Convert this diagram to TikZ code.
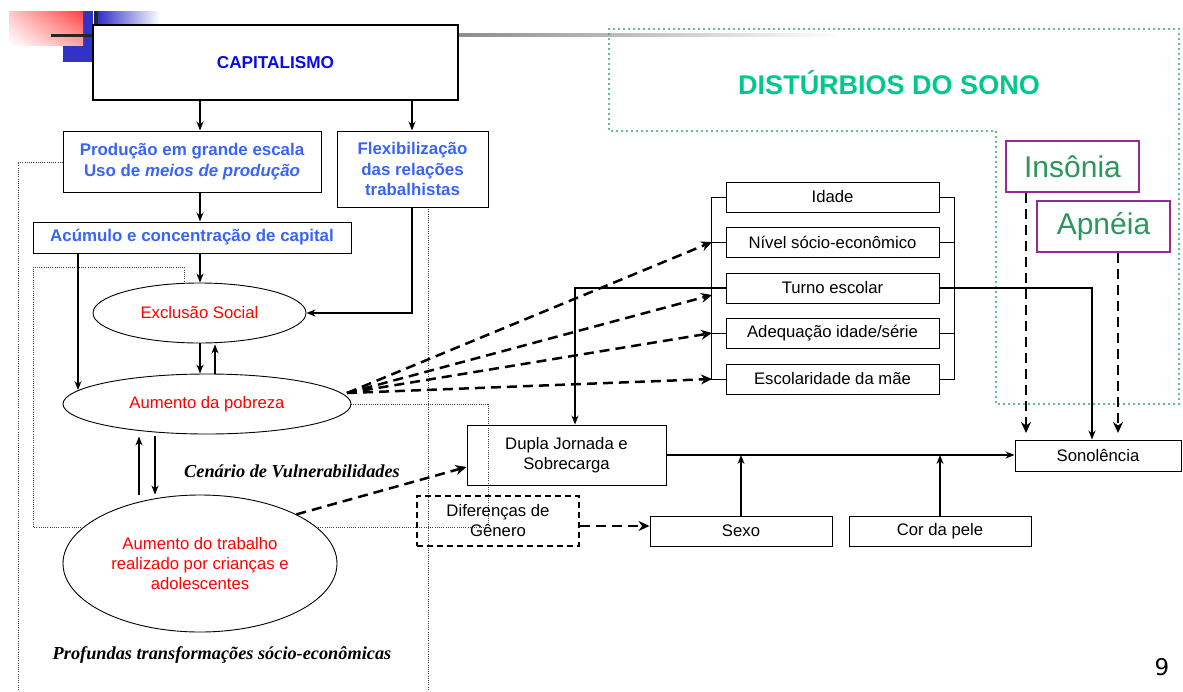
\documentclass[tikz,border=0pt]{standalone}
\usepackage{fontspec}
\setmainfont{Liberation Sans}
\newfontfamily\serifbi{Liberation Serif}
\newfontfamily\ninefont{DejaVu Sans}
\usetikzlibrary{arrows.meta,shapes.geometric,shadings}
\definecolor{capblue}{RGB}{10,10,240}
\definecolor{prodblue}{RGB}{55,100,250}
\definecolor{myred}{RGB}{255,0,0}
\definecolor{distgreen}{RGB}{0,200,140}
\definecolor{insgreen}{RGB}{45,150,95}
\definecolor{mypurple}{RGB}{153,40,153}
\definecolor{dotgreen}{RGB}{40,170,100}
\definecolor{sqblue}{RGB}{50,50,200}
\newcommand\bodyfont{\fontsize{16.7}{20}\selectfont}
\newcommand\boldfont{\fontsize{16.9}{20.5}\selectfont\bfseries}
\begin{document}
\begin{tikzpicture}[x=1pt,y=-1pt,
  box/.style={draw, line width=1pt, inner sep=0pt, align=center, font=\bodyfont},
  bbox/.style={box, text=prodblue, font=\boldfont},
  el/.style={ellipse, draw, line width=0.9pt, fill=white, inner sep=0pt, align=center, text=myred, font=\bodyfont},
  arr/.style={line width=1.1pt, -{Stealth[length=9pt,width=7pt]}},
  darr/.style={line width=2.5pt, dash pattern=on 10pt off 6pt, -{Stealth[length=11pt,width=10pt]}},
  dotl/.style={line width=0.9pt, black!75, dash pattern=on 1pt off 1.2pt},
  gdot/.style={draw=dotgreen, line width=2.2pt, line cap=round, dash pattern=on 0pt off 5pt},
  sbox/.style={draw=mypurple, line width=2.2pt, inner sep=0pt, text=insgreen, font=\fontsize{30}{34}\selectfont, minimum width=133pt, minimum height=51pt},
  cal/.style={font=\serifbi\bfseries\itshape\fontsize{18.3}{22}\selectfont}
]
\useasboundingbox (0,0) rectangle (1183,691);
% decorations top-left
\fill[sqblue] (63,11) rectangle (93,62);
\shade[upper left=red!22, upper right=red!75, lower left=white, lower right=red!35] (9,11) rectangle (83,45);
\shade[left color=sqblue, right color=white] (98,11) rectangle (160,24);
\fill[black!85] (94,11) rectangle (98,25);
\fill[black!85] (51,33.5) rectangle (93,36.5);
\shade[left color=black!45, right color=white] (458,33.5) rectangle (840,36.5);
% green dotted region
\draw[gdot] (609,29) -- (1179,29) -- (1179,404) -- (996,404) -- (996,131) -- (609,131) -- cycle;
% dotted frames
\draw[dotl] (63,162) -- (18,162) -- (18,691);
\draw[dotl] (428,207) -- (428,691);
\draw[dotl] (351,404) -- (488,404) -- (488,527) -- (33,527) -- (33,267) -- (184,267) -- (184,283);

% nodes
\node[box, line width=2.4pt, fill=white, minimum width=365pt, minimum height=75pt, text=capblue, font=\fontsize{17.2}{20}\selectfont\bfseries] (cap) at (275.5,62.5) {CAPITALISMO};
\node[bbox, minimum width=258pt, minimum height=61pt] (prod) at (192,161.5) {Produção em grande escala\\Uso de \textit{meios de produção}};
\node[bbox, minimum width=151pt, minimum height=76pt] (flex) at (412.5,169) {Flexibilização\\das relações\\trabalhistas};
\node[bbox, minimum width=318pt, minimum height=31pt] (acum) at (192,237.5) {Acúmulo e concentração de capital};
\node[el, minimum width=213pt, minimum height=60pt] (excl) at (199.5,313) {Exclusão Social};
\node[el, minimum width=288pt, minimum height=60pt] (pob) at (207,404) {Aumento da pobreza};
\node[el, minimum width=274pt, minimum height=137pt] (trab) at (200,563.5) {Aumento do trabalho\\realizado por crianças e\\adolescentes};

\node[box, minimum width=213pt, minimum height=30pt] (idade) at (832.5,197) {Idade};
\node[box, minimum width=213pt, minimum height=30pt] (niv) at (832.5,242) {Nível sócio-econômico};
\node[box, minimum width=213pt, minimum height=30pt] (turno) at (832.5,288) {Turno escolar};
\node[box, minimum width=213pt, minimum height=30pt] (adeq) at (832.5,333) {Adequação idade/série};
\node[box, minimum width=213pt, minimum height=30pt] (esc) at (832.5,379) {Escolaridade da mãe};

\node[box, minimum width=199pt, minimum height=60pt] (dupla) at (566.5,455) {Dupla Jornada e\\Sobrecarga};
\node[box, dash pattern=on 6pt off 4pt, line width=1.2pt, minimum width=162pt, minimum height=50pt] (dif) at (498,521) {Diferenças de\\Gênero};
\node[box, minimum width=182pt, minimum height=30pt] (sexo) at (741,531) {Sexo};
\node[box, minimum width=182pt, minimum height=30pt] (cor) at (940,531) {Cor da pele};
\node[box, minimum width=166pt, minimum height=31pt] (sono) at (1098,455.5) {Sonolência};

\node[sbox] (ins) at (1072.5,166.5) {Insônia};
\node[sbox] (apn) at (1103.5,226.5) {Apnéia};
\node[text=distgreen, font=\fontsize{27}{30}\selectfont\bfseries] (dist) at (889,83) {DISTÚRBIOS DO SONO};

\node[cal] (cen) at (292,471) {Cenário de Vulnerabilidades};
\node[cal] (prof) at (222,655) {Profundas transformações sócio-econômicas};
\node[font=\ninefont\fontsize{23}{26}\selectfont] (pg) at (1162,667) {9};

% helper coordinates
\coordinate (xa) at (200,0);
\coordinate (xb) at (412,0);
\coordinate (xc) at (78,0);
\coordinate (xd) at (215,0);
\coordinate (xe) at (139,0);
\coordinate (xf) at (155,0);
\coordinate (xg) at (575,0);
\coordinate (xh) at (1092,0);
\coordinate (xi) at (1026,0);
\coordinate (xj) at (1118,0);
\coordinate (pobend) at (78,390);
\coordinate (pobtip) at (347,393);
\coordinate (eniv) at (712,242);
\coordinate (etur) at (712,295);
\coordinate (eade) at (712,333);
\coordinate (eesc) at (712,379);
\coordinate (insend) at (1026,433);
\coordinate (apnend) at (1118,433);

% connectors left
\draw[arr] (cap.south -| xa) -- (prod.north -| xa);
\draw[arr] (cap.south -| xb) -- (flex.north -| xb);
\draw[arr] (prod.south -| xa) -- (acum.north -| xa);
\draw[arr] (acum.south -| xa) -- (excl.north -| xa);
\draw[arr] (acum.south -| xc) -- (pobend);
\draw[arr] (flex.south -| xb) |- (excl.east);
\draw[arr] (excl.south -| xa) -- (pob.north -| xa);
\draw[arr] (pob.north -| xd) -- ([yshift=-1pt]excl.south -| xd);
\draw[arr] (trab.north -| xe) -- ([yshift=-2pt]pob.south -| xe);
\draw[arr] ([yshift=-2pt]pob.south -| xf) -- (trab.north -| xf);

% dashed from pobreza
\draw[darr] (pobtip) -- (eniv);
\draw[darr] (pobtip) -- (etur);
\draw[darr] (pobtip) -- (eade);
\draw[darr] (pobtip) -- (eesc);
\draw[darr] (trab.27) -- ([yshift=-12pt]dupla.west);
\draw[darr] ([yshift=-5pt]dif.east) -- ([yshift=5pt]sexo.west);

% brackets
\draw[line width=1pt] (idade.west) -- ++(-14,0) |- (esc.west);
\draw[line width=1pt] (niv.west) -- ++(-14,0);
\draw[line width=1pt] (adeq.west) -- ++(-14,0);
\draw[line width=1pt] (idade.east) -- ++(15,0) |- (esc.east);
\draw[line width=1pt] (niv.east) -- ++(15,0);
\draw[line width=1pt] (adeq.east) -- ++(15,0);

% right connectors
\draw[arr] (turno.west) -| (dupla.north -| xg);
\draw[arr] (turno.east) -| (sono.north -| xh);
\draw[arr] (dupla.east) -- (sono.west |- dupla.east);
\draw[arr] (sexo.north) -- (sexo.north |- dupla.east);
\draw[arr] (cor.north) -- (cor.north |- dupla.east);
\draw[darr, line width=2.2pt] (ins.south -| xi) -- (insend);
\draw[darr, line width=2.2pt] (apn.south -| xj) -- (apnend);
\end{tikzpicture}
\end{document}
